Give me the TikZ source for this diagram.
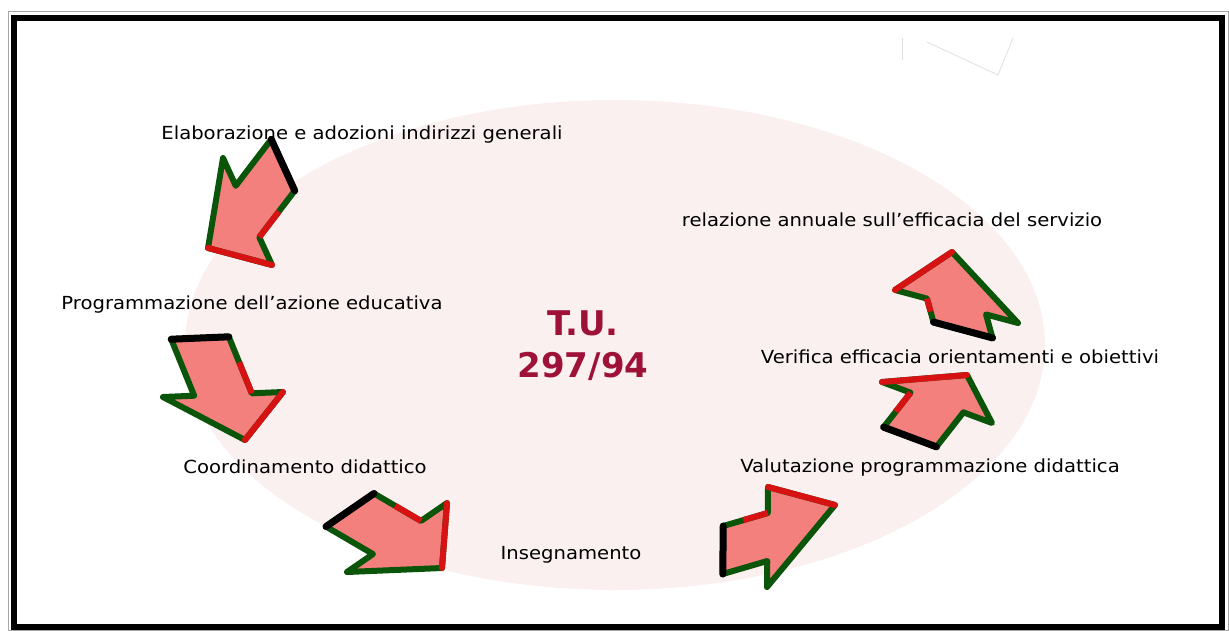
\documentclass[tikz,border=0pt]{standalone}
\usepackage{fontspec}
\setmainfont[FakeStretch=1.09]{DejaVu Sans}
\newfontfamily\tufont{DejaVu Sans}
\usepackage{tikz}
\usetikzlibrary{calc}

\definecolor{arrowpink}{HTML}{F4807E}
\definecolor{bevelgreen}{HTML}{0B550B}
\definecolor{bevelred}{HTML}{D61212}
\definecolor{tucolor}{HTML}{9E1238}
\definecolor{ovalpink}{HTML}{FBF0F0}

% block arrow: tail, tip, red barb, green barb
\newcommand{\blockarrow}[4]{%
  \coordinate (m) at ($(#3)!0.5!(#4)$);
  \coordinate (sl) at ($(m)!0.48!(#3)$);
  \coordinate (sr) at ($(m)!0.48!(#4)$);
  \coordinate (tl) at ($(#1)+(sl)-(m)$);
  \coordinate (tr) at ($(#1)+(sr)-(m)$);
  \filldraw[fill=arrowpink, draw=bevelgreen, line width=6pt, line join=round]
    (tl) -- (sl) -- (#3) -- (#2) -- (#4) -- (sr) -- (tr) -- cycle;
  \draw[bevelred, line width=6pt] ($(tl)!0.45!(sl)$) -- (sl);
  \draw[bevelred, line width=6pt, line cap=round] (#3) -- (#2);
  \draw[black, line width=7pt, line cap=round] (tl) -- (tr);
}

\begin{document}
\begin{tikzpicture}[x=1pt, y=-1pt,
    phase/.style={font=\fontsize{18}{21}\selectfont, anchor=base, inner sep=0pt},
    tu/.style={font=\tufont\fontsize{34}{38}\selectfont\bfseries, text=tucolor, anchor=base, inner sep=0pt}]
        \useasboundingbox (0,0) rectangle (1229,630);
        % frame
        \draw[gray!70, line width=1pt] (8,11) rectangle (1228,630);
        \draw[line width=6pt] (14,17.5) rectangle (1222,627);
        % oval
        \fill[ovalpink] (615,345) ellipse [x radius=430pt, y radius=245pt];
        % faint marks top right
        \draw[gray!25, line width=0.8pt] (902,38) -- (902,60);
        \draw[gray!25, line width=0.8pt] (927,42) -- (998,75) -- (1013,38);
        % steps
        \node[phase] (elab) at (362,139) {Elaborazione e adozioni indirizzi generali};
        \node[phase] (prog) at (252,309) {Programmazione dell’azione educativa};
        \node[phase] (coord) at (305,473) {Coordinamento didattico};
        \node[phase] (inse) at (571,559) {Insegnamento};
        \node[phase] (valu) at (930,472) {Valutazione programmazione didattica};
        \node[phase] (veri) at (960,363) {Verifica efficacia orientamenti e obiettivi};
        \node[phase] (rela) at (892,226) {relazione annuale sull’efficacia del servizio};
        \node[tu] (tu) at (583,335) {T.U.};
        \node[tu] (num) at (583,377) {297/94};
        % arrows
        \blockarrow{283,165}{208,248}{272,265}{223,158}
        \blockarrow{200,338}{245,440}{283,392}{163,397}
        \blockarrow{350,510}{442,568}{447,503}{347,572}
        \blockarrow{723,550}{835,505}{768,487}{767,587}
        \blockarrow{910,437}{967,375}{882,382}{992,423}
        \blockarrow{963,330}{952,252}{895,290}{1018,323}
\end{tikzpicture}
\end{document}
